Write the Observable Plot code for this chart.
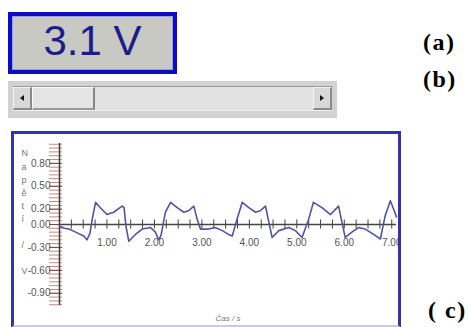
<!DOCTYPE html>
<html>
<head>
<meta charset="utf-8">
<script src="https://cdn.jsdelivr.net/npm/d3@7"></script>
<script src="https://cdn.jsdelivr.net/npm/@observablehq/plot@0.6"></script>
<style>
  html, body { margin: 0; padding: 0; background: #ffffff; }
  body { width: 469px; height: 327px; position: relative; overflow: hidden; font-family: "Liberation Sans", Arial, sans-serif; }
  .abs { position: absolute; box-sizing: border-box; }
  #display { left: 8px; top: 12px; width: 169px; height: 62px; border: 4px solid #0c0cc4; background: #c9c9c4; box-shadow: inset 0 0 0 1px #9c9ce0; }
  #displayText { left: 0; width: 161px; top: 4px; text-align: center; font-size: 42px; line-height: 42px; color: #1c1c8c; font-family: "Liberation Sans", Arial, sans-serif; }
  #slider { left: 8px; top: 81px; width: 329px; height: 37px; background: #d2d2d2; }
  #track { left: 13px; top: 86px; width: 319px; height: 25px; background: #e2e2e2; border-top: 1px solid #9a9a9a; border-bottom: 1px solid #f2f2f2; }
  .btn { top: 87px; width: 19px; height: 23px; background: #d8d8d8; border-top: 1px solid #f4f4f4; border-left: 1px solid #f4f4f4; border-right: 2px solid #8a8a8a; border-bottom: 2px solid #8a8a8a; }
  #btnL { left: 13px; }
  #btnR { left: 313px; }
  #thumb { left: 32px; top: 87px; width: 63px; height: 23px; background: #e4e4e4; border-top: 1px solid #fafafa; border-left: 1px solid #fafafa; border-right: 2px solid #858585; border-bottom: 2px solid #9a9a9a; }
  .tri { width: 0; height: 0; border-top: 3px solid transparent; border-bottom: 3px solid transparent; }
  #triL { left: 20px; top: 95px; border-right: 4px solid #111; }
  #triR { left: 320px; top: 95px; border-left: 4px solid #111; }
  .lab { font-family: "Liberation Serif", "Times New Roman", serif; font-weight: bold; font-size: 24px; line-height: 24px; color: #000; letter-spacing: 1.5px; white-space: pre; }
  #frame { left: 11px; top: 131px; width: 390px; height: 197px; border: 3px solid #3434a8; border-bottom-color: #c8c8ec; z-index: 2; pointer-events: none; }
  #chart { left: 14px; top: 134px; width: 384px; height: 191px; overflow: hidden; background: #fff; }
</style>
</head>
<body>
<div id="display" class="abs"><div id="displayText" class="abs">3.1 V</div></div>

<div id="slider" class="abs"></div>
<div id="track" class="abs"></div>
<div id="btnL" class="abs btn"></div>
<div id="thumb" class="abs"></div>
<div id="btnR" class="abs btn"></div>
<div id="triL" class="abs tri"></div>
<div id="triR" class="abs tri"></div>

<div class="abs lab" style="left:423px; top:30px;">(a)</div>
<div class="abs lab" style="left:423px; top:67px;">(b)</div>
<div class="abs lab" style="left:428px; top:298px;">( c)</div>

<div id="chart" class="abs"></div>
<div id="frame" class="abs"></div>

<script>
// Waveform (time in s, voltage in V)
const time = [0.00, 0.10, 0.20, 0.34, 0.51, 0.58, 0.64, 0.69, 0.76, 0.86, 1.00, 1.14, 1.32, 1.36, 1.40, 1.46,
  1.60, 1.74, 1.92, 2.02, 2.09, 2.14, 2.23, 2.34, 2.48, 2.62, 2.72, 2.83, 2.90, 2.97,
  3.14, 3.28, 3.43, 3.56, 3.64, 3.74, 3.85, 3.99, 4.13, 4.23, 4.34, 4.41, 4.48,
  4.62, 4.83, 4.97, 5.11, 5.25, 5.35, 5.53, 5.71, 5.88, 5.95, 6.02,
  6.16, 6.30, 6.44, 6.62, 6.76, 6.86, 6.97, 7.04, 7.10];
const voltage = [-0.02, -0.05, -0.06, -0.10, -0.15, -0.20, -0.12, 0.07, 0.29, 0.22, 0.13, 0.16, 0.24, 0.22, -0.02, -0.22,
  -0.13, -0.06, -0.04, -0.10, -0.20, -0.14, 0.16, 0.29, 0.22, 0.16, 0.18, 0.24, 0.07, -0.06,
  -0.06, -0.04, -0.08, -0.13, -0.15, 0.07, 0.29, 0.22, 0.16, 0.18, 0.24, 0.03, -0.17,
  -0.08, -0.04, -0.08, -0.17, 0.07, 0.29, 0.22, 0.13, 0.24, 0.03, -0.17,
  -0.10, -0.04, -0.06, -0.13, -0.19, 0.11, 0.31, 0.20, 0.10];

// Axis ticks and labels
const yTickValues = [0.8, 0.5, 0.2, 0.0, -0.3, -0.6, -0.9];
const yTickLabels = ["0.80", "0.50", "0.20", "0.00", "-0.30", "-0.60", "-0.90"];
const xTickValues = [1, 2, 3, 4, 5, 6, 7];
const xTickLabels = ["1.00", "2.00", "3.00", "4.00", "5.00", "6.00", "7.00"];
const xMinorTicks = d3.range(0.25, 7.01, 0.25);
const yMinorTicks = d3.range(-1.05, 1.051, 0.05).map(v => Math.round(v * 100) / 100);
const yTitle = "Napětí / V";
const xTitle = "Čas / s";

const rows = time.map((t, i) => ({t, v: voltage[i]}));
const yLabelRows = yTickValues.map((v, i) => ({v, label: yTickLabels[i]}));
const xLabelRows = xTickValues.map((v, i) => ({v, label: xTickLabels[i]}));

const chart = Plot.plot({
  width: 384,
  height: 191,
  marginLeft: 45,
  marginRight: 2,
  marginTop: 9,
  marginBottom: 20,
  style: {background: "transparent", fontFamily: "Liberation Sans, Arial, sans-serif", overflow: "visible"},
  x: {domain: [0, 7.1], axis: null},
  y: {domain: [-1.06, 1.06]},
  marks: [
    // dense reddish ticks on the y axis
    Plot.axisY(yMinorTicks, {tickSize: 13, dx: 3, tickFormat: () => "", stroke: "#c08a80", strokeWidth: 1, label: null}),
    Plot.axisY(yTickValues, {tickSize: 13, dx: 3, tickFormat: () => "", stroke: "#7a4a44", strokeWidth: 1, label: null}),
    Plot.ruleX([0], {stroke: "#3a3a3a", strokeWidth: 1.5}),
    Plot.text(yLabelRows, {frameAnchor: "left", y: "v", text: "label", dx: -9, textAnchor: "end", fontSize: 10, fill: "#555"}),
    // x axis along zero
    Plot.ruleY([0], {stroke: "#444", strokeWidth: 1.5}),
    Plot.ruleX(xMinorTicks, {x: d => d, y1: -0.06, y2: 0.06, stroke: "#444", strokeWidth: 1}),
    Plot.text(xLabelRows, {x: "v", y: () => 0, text: "label", dy: 18, fontSize: 10, fill: "#555"}),
    // signal
    Plot.line(rows, {x: "t", y: "v", stroke: "#5252a8", strokeWidth: 1.6, strokeLinejoin: "round"}),
    // titles
    Plot.text([yTitle], {text: d => d.split("").join("\n"), frameAnchor: "left", dx: -38, dy: -13.5, fontSize: 9, lineHeight: 1.45, fill: "#777"}),
    Plot.text([xTitle], {text: d => d, frameAnchor: "bottom", dy: 15, fontSize: 8, fontStyle: "italic", fill: "#777"})
  ]
});
document.getElementById("chart").appendChild(chart);
</script>
</body>
</html>
